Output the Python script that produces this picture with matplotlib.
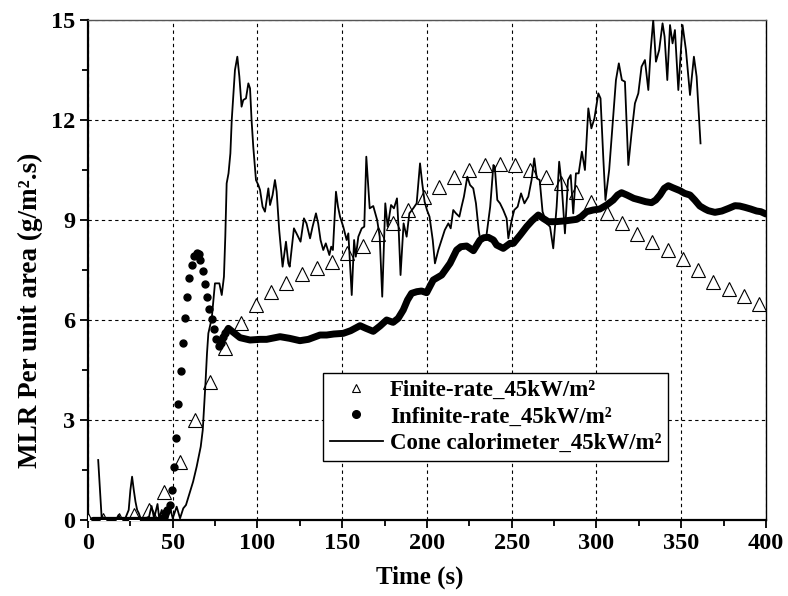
import numpy as np
import matplotlib
matplotlib.use("Agg")
import matplotlib.pyplot as plt

# --- data ---
# Finite-rate model (open triangles), one point every 9 s
fin_t = [0, 9, 18, 27, 36, 45, 54, 63, 72, 81, 90, 99, 108, 117, 126, 135, 144,
         153, 162, 171, 180, 189, 198, 207, 216, 225, 234, 243, 252, 261, 270,
         279, 288, 297, 306, 315, 324, 333, 342, 351, 360, 369, 378, 387, 396]
fin_y = [0.0, 0.0, 0.0, 0.15, 0.3, 0.85, 1.75, 3.0, 4.15, 5.15, 5.92, 6.45, 6.85,
         7.12, 7.38, 7.55, 7.75, 8.0, 8.22, 8.57, 8.9, 9.3, 9.68, 10.0, 10.3,
         10.5, 10.65, 10.67, 10.65, 10.5, 10.3, 10.1, 9.85, 9.55, 9.22, 8.92,
         8.57, 8.35, 8.1, 7.82, 7.5, 7.15, 6.93, 6.72, 6.48]

# Infinite-rate model: separate dots on the steep part
inf_dot_t = [44.0, 45.4, 46.8, 48.4, 49.8, 50.9, 51.9, 53.3, 54.7, 55.8, 57.2,
             58.6, 59.8, 61.2, 62.5, 64.1, 65.3, 66.3, 67.6, 69.0, 70.2, 71.6,
             72.9, 74.3, 75.7, 77.1, 78.5, 79.8, 81.0]
inf_dot_y = [0.05, 0.2, 0.3, 0.45, 0.9, 1.58, 2.47, 3.48, 4.46, 5.3, 6.05, 6.7,
             7.25, 7.65, 7.92, 8.02, 7.98, 7.8, 7.47, 7.08, 6.68, 6.33, 6.02,
             5.74, 5.42, 5.22, 5.32, 5.48, 5.6]
# ...and the dense part, where the dots merge into a thick band
inf_early_t = [3, 44]
inf_early_y = [0.0, 0.0]
inf_t = [81.0, 82.8, 86, 89.7, 95.6, 101.5, 105.4, 113.3, 119, 125, 130, 136.9,
         140.8, 145, 150.6, 155, 160.5, 164, 168.3, 172.3, 176.2, 180, 183, 186,
         188.5, 190.9, 194, 196.8, 199.8, 203.7, 208.7, 213.6, 217.5, 220, 223.4,
         227.4, 231.3, 233.5, 236.2, 239.2, 241.1, 245, 249, 251, 255, 258.8, 262,
         265.7, 268.5, 271.6, 276, 282.4, 288.3, 291, 294.2, 298, 302, 306, 309.9,
         312.5, 314.8, 318, 322, 325.6, 329, 332.5, 335, 337.5, 340, 342.4, 345,
         349.3, 352, 355.2, 358, 361, 364, 366, 369.9, 374, 378, 381.7, 384.5,
         387.6, 391, 394.5, 397, 400]
inf_y = [5.6, 5.75, 5.62, 5.47, 5.4, 5.42, 5.42, 5.5, 5.45, 5.38, 5.42, 5.55,
         5.55, 5.58, 5.6, 5.68, 5.83, 5.75, 5.66, 5.82, 6.0, 5.93, 6.05, 6.3,
         6.6, 6.8, 6.85, 6.87, 6.82, 7.2, 7.35, 7.7, 8.1, 8.2, 8.22, 8.08, 8.4,
         8.47, 8.48, 8.4, 8.25, 8.15, 8.3, 8.3, 8.55, 8.8, 8.98, 9.15, 9.05, 8.95,
         8.95, 8.98, 9.02, 9.1, 9.25, 9.3, 9.33, 9.45, 9.6, 9.75, 9.82, 9.75,
         9.65, 9.6, 9.55, 9.52, 9.6, 9.75, 9.95, 10.03, 9.97, 9.88, 9.8, 9.75,
         9.6, 9.42, 9.33, 9.28, 9.23, 9.27, 9.35, 9.43, 9.42, 9.38, 9.33, 9.27,
         9.25, 9.18]

# Cone calorimeter measurement
cone_t = [6.0, 8.0, 10, 14, 17, 18, 19, 22, 24, 25, 26, 27, 28, 29, 30, 31, 34,
          36, 37.5, 39, 41, 42, 43.5, 44.5, 46, 47, 48.5, 50, 52.3, 54.3, 56.2,
          57.8, 60.2, 62, 64.1, 66.5, 67.7, 68.5, 69.3, 70.2, 71, 73, 74.9, 77.5,
          78.9, 80.2, 81.0, 81.8, 82.9, 84, 84.8, 86.7, 88.1, 89.3, 90.6, 91.6,
          93.2, 94.6, 95.6, 96.5, 97.5, 99.1, 100.5, 101.5, 103, 104.4, 106.4,
          107.4, 108.9, 110.3, 111.3, 112.8, 114.8, 116.8, 118.2, 119, 121.5, 123,
          125.4, 127.4, 128.9, 131, 132.5, 134.5, 135.8, 137.2, 138.8, 140.3,
          142.4, 143.5, 144.5, 146.3, 147.5, 148.7, 150.6, 152.6, 153.6, 155.6,
          157, 158, 159.5, 161.5, 163, 164.2, 166.2, 168.3, 170.6, 172.1, 173.6,
          175.4, 176.8, 178.8, 180.5, 182.3, 183.4, 184.4, 186.2, 188, 189.6,
          191.9, 193.9, 195.9, 197.2, 198.6, 200, 201.5, 203.4, 204.7, 206.7,
          208.6, 210.5, 212.6, 214, 215.5, 217.1, 219.1, 220.4, 221.8, 223.8,
          225.4, 227.3, 228.9, 230.5, 231.3, 233, 235, 237.3, 239.2, 240, 241.5,
          243.1, 245, 247, 248, 250, 251.5, 253.5, 255.5, 257.5, 259.8, 261.7,
          263.3, 264.8, 266.5, 268.2, 270.6, 272.6, 274.5, 276.5, 278, 279.4,
          281.4, 283.2, 284.8, 286.3, 287.9, 289.5, 291.4, 293.2, 295.2, 297,
          298.8, 301.1, 302.4, 304, 305.3, 307.5, 309.7, 311.5, 313.2, 315, 316.8,
          318.8, 320.7, 322.7, 324.7, 326.6, 328.6, 330.6, 332, 333.5, 335.1, 337,
          339, 340.2, 341.8, 343.4, 344.9, 346.3, 348.3, 350.8, 352.8, 355.2,
          357.5, 359.1, 361.4]
cone_y = [1.8, 0.1, 0.05, 0.05, 0.05, 0.15, 0.05, 0.05, 0.3, 0.9, 1.3, 0.9, 0.55,
          0.3, 0.2, 0.05, 0.05, 0.1, 0.42, 0.05, 0.48, 0.05, 0.3, 0.05, 0.3, 0.05,
          0.35, 0.05, 0.4, 0.05, 0.35, 0.45, 0.85, 1.15, 1.6, 2.2, 2.7, 3.4, 4.1,
          5.0, 5.6, 6.05, 7.1, 7.1, 6.75, 7.3, 8.5, 10.1, 10.4, 11.0, 12.0, 13.5,
          13.9, 13.3, 12.4, 12.6, 12.65, 13.1, 12.95, 12.0, 11.2, 10.2, 10.05,
          9.9, 9.4, 9.25, 9.95, 9.45, 9.75, 10.2, 9.85, 8.7, 7.6, 8.35, 7.7, 7.6,
          8.75, 8.6, 8.35, 9.05, 8.9, 8.45, 8.8, 9.2, 8.9, 8.4, 8.1, 8.3, 7.95,
          8.2, 8.1, 9.85, 9.4, 9.1, 8.8, 8.4, 8.6, 6.75, 8.4, 7.9, 8.5, 8.75, 8.8,
          10.9, 9.35, 9.42, 9.0, 8.5, 6.7, 9.5, 8.8, 9.45, 9.35, 9.65, 8.6, 7.35,
          8.9, 8.5, 9.2, 9.35, 9.5, 10.7, 10.1, 9.55, 9.3, 9.1, 8.4, 7.7, 8.1,
          8.4, 8.7, 8.9, 8.75, 9.3, 9.2, 9.1, 9.4, 9.7, 10.3, 10.05, 9.95, 9.5,
          8.7, 8.45, 8.4, 8.5, 9.4, 10.65, 10.6, 9.6, 9.5, 9.3, 9.05, 8.45, 9.0,
          9.3, 9.4, 9.8, 9.5, 9.7, 10.2, 10.85, 10.25, 10.2, 9.25, 8.9, 8.8, 8.15,
          9.4, 10.75, 10.1, 8.6, 10.2, 10.35, 9.2, 10.4, 10.4, 11.05, 10.5, 12.35,
          11.75, 12.05, 12.8, 12.65, 10.9, 9.6, 10.5, 12.0, 13.2, 13.7, 13.2,
          13.15, 10.65, 11.6, 12.5, 12.8, 13.6, 13.8, 12.9, 14.1, 15.0, 13.75,
          14.1, 14.9, 14.5, 13.2, 14.85, 14.3, 14.7, 12.9, 14.85, 14.1, 12.75,
          13.9, 13.3, 11.3]

x_ticks = [0, 50, 100, 150, 200, 250, 300, 350, 400]
y_ticks = [0, 3, 6, 9, 12, 15]

plt.rcParams['font.family'] = ['Liberation Serif', 'DejaVu Serif']
plt.rcParams['font.weight'] = 'bold'

fig = plt.figure(figsize=(7.88, 5.96), dpi=100)
ax = fig.add_axes([0.1117, 0.1275, 0.8603, 0.8389])

# finite-rate triangles
ax.plot(fin_t, fin_y, linestyle='none', marker='^', markersize=9.5,
        markerfacecolor='white', markeredgecolor='black', markeredgewidth=0.8,
        zorder=3, label='Finite-rate_45kW/m²')

# infinite-rate: thick band where points merge, dots where they are apart
ax.plot(inf_early_t, inf_early_y, color='black', linewidth=4.5,
        solid_capstyle='round', zorder=4)
ax.plot(inf_t, inf_y, color='black', linewidth=5.0, solid_capstyle='round',
        solid_joinstyle='round', zorder=4)
ax.plot(inf_dot_t, inf_dot_y, linestyle='none', marker='o', markersize=5,
        color='black', zorder=4, label='Infinite-rate_45kW/m²')

# cone calorimeter
ax.plot(cone_t, cone_y, color='black', linewidth=1.3, zorder=5,
        label='Cone calorimeter_45kW/m²')

ax.set_xlim(0, 400)
ax.set_ylim(0, 15)
ax.set_xticks(x_ticks)
ax.set_yticks(y_ticks)
ax.set_xticks(np.arange(25, 400, 50), minor=True)
ax.set_yticks(np.arange(1.5, 15, 3), minor=True)
ax.tick_params(axis='both', which='major', direction='out', length=6, width=1.3,
               labelsize=17.5, pad=3)
ax.tick_params(axis='both', which='minor', direction='out', length=4, width=1.3)
for lab in ax.get_xticklabels() + ax.get_yticklabels():
    lab.set_fontweight('bold')

ax.grid(True, which='major', color='black', linestyle=(0, (3, 3)), linewidth=0.8)
ax.set_axisbelow(True)

for side in ['left', 'bottom']:
    ax.spines[side].set_linewidth(1.6)
ax.spines['right'].set_linewidth(1.0)
ax.spines['top'].set_linewidth(1.0)
ax.spines['top'].set_color('#555555')

ax.set_xlabel('Time (s)', fontsize=18, fontweight='bold')
ax.set_ylabel('MLR Per unit area (g/m².s)', fontsize=19.5, fontweight='bold')
ax.xaxis.set_label_coords(0.49, -0.092)
ax.yaxis.set_label_coords(-0.066, 0.42)

leg = ax.legend(loc='lower left', bbox_to_anchor=(0.347, 0.118), fontsize=16.5,
                frameon=True, fancybox=False, edgecolor='black', framealpha=1,
                handlelength=2.3, handletextpad=0.3, borderpad=0.3,
                labelspacing=0.25, borderaxespad=0)
leg.get_frame().set_linewidth(1.0)
leg.legend_handles[0].set_markersize(6)
leg.legend_handles[1].set_markersize(5.5)
for txt in leg.get_texts():
    txt.set_fontweight('bold')

fig.savefig('out.png', dpi=100)
